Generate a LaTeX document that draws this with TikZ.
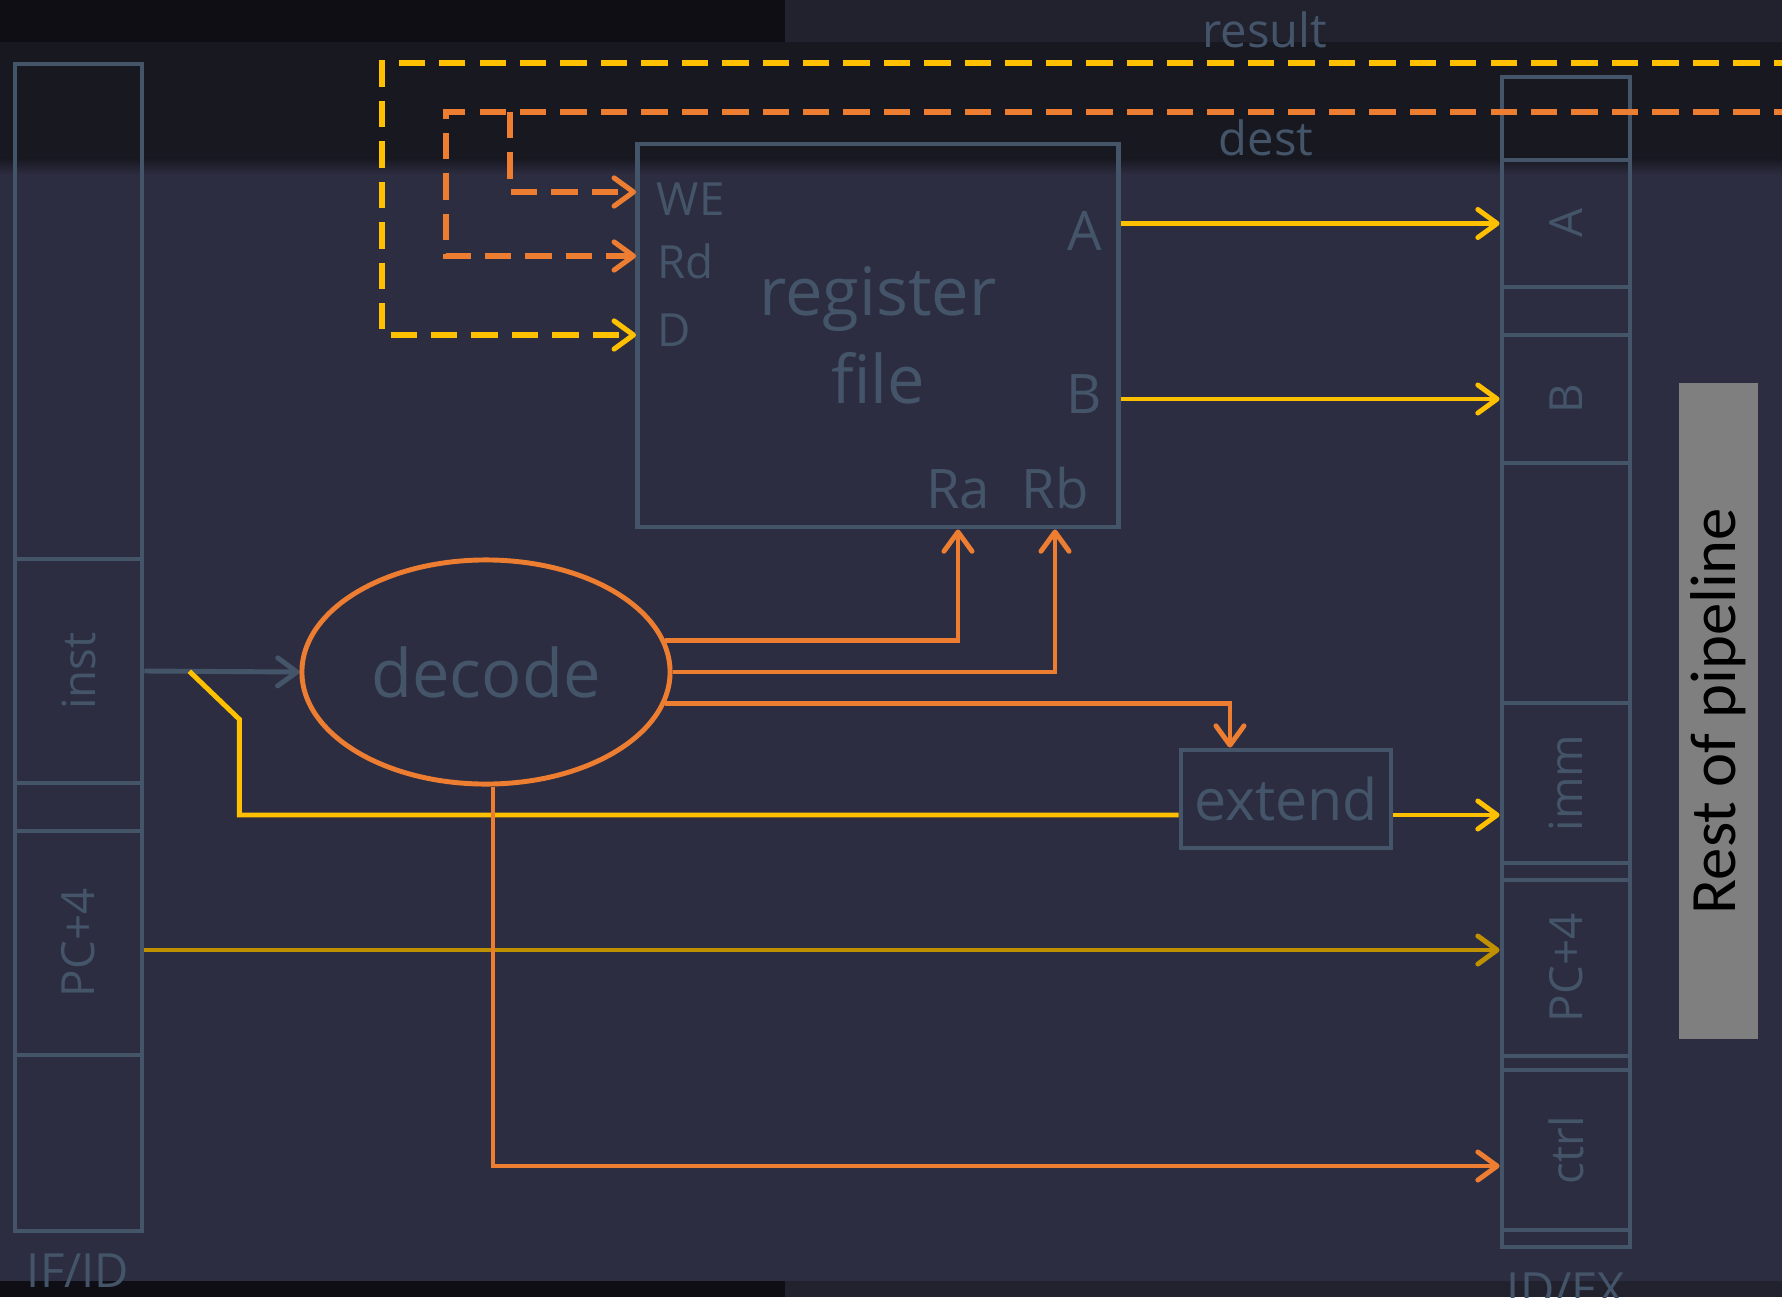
\documentclass[tikz,border=0pt]{standalone}
\usepackage{fontspec}
\setmainfont{Open Sans}
\newfontfamily\calibfont{Carlito}
\usepackage{tikz}
\usetikzlibrary{arrows.meta,shapes,positioning,calc}
\usepackage{xcolor}
\definecolor{slide}{RGB}{45,45,65}
\definecolor{bandA}{RGB}{14,14,20}
\definecolor{bandB}{RGB}{34,34,47}
\definecolor{bandC}{RGB}{24,24,33}
\definecolor{boxc}{RGB}{68,85,106}
\definecolor{ylw}{RGB}{255,192,0}
\definecolor{org}{RGB}{237,125,49}
\definecolor{dylw}{RGB}{191,144,0}
\definecolor{restgray}{RGB}{127,127,127}

\begin{document}
\begin{tikzpicture}[x=0.01cm, y=-0.01cm,
    >={Straight Barb[length=5.5pt,width=8pt,round]},
    blk/.style={draw=boxc, line width=1.35pt, text=boxc, inner sep=0pt},
    cell/.style={blk, minimum width=1.28cm, font=\fontsize{13}{15}\selectfont},
    portlbl/.style={text=boxc, inner sep=0pt, font=\fontsize{13}{15}\selectfont},
    outlbl/.style={text=boxc, inner sep=0pt, font=\fontsize{15.5}{18}\selectfont},
    lbl/.style={text=boxc, inner sep=0pt, font=\fontsize{13.4}{16}\selectfont},
    ywire/.style={draw=ylw, line width=1.4pt},
    owire/.style={draw=org, line width=1.4pt},
    gwire/.style={draw=boxc, line width=1.4pt},
    pwire/.style={draw=dylw, line width=1.4pt},
    dashy/.style={ywire, line width=1.45pt, dash pattern=on 7.5pt off 4pt},
    dasho/.style={owire, line width=1.45pt, dash pattern=on 7.5pt off 4pt}]

    % 背景
    \fill[slide] (0,0) rectangle (1782,1297);
    \useasboundingbox (0,0) rectangle (1782,1297);
    \fill[bandA] (0,0) rectangle (785,42);
    \fill[bandB] (785,0) rectangle (1782,42);
    \fill[bandC] (0,42) rectangle (1782,158);
    \shade[top color=bandC, bottom color=slide] (0,158) rectangle (1782,175);
    \fill[bandA] (0,1281) rectangle (785,1297);
    \fill[bandB] (785,1281) rectangle (1782,1297);

    % IF/ID 寄存器
    \draw[blk] (15,64) rectangle (142,1231);
    \node[cell, minimum width=1.27cm, minimum height=2.24cm] (inst) at (78.5,671) {\rotatebox{90}{inst}};
    \node[cell, minimum width=1.27cm, minimum height=2.24cm] (ifpc) at (78.5,943) {\rotatebox{90}{PC+4}};
    \node[lbl, anchor=base] (ifid) at (78,1287) {IF/ID};

    % ID/EX 寄存器
    \draw[blk] (1502,77) rectangle (1630,1247);
    \node[cell, minimum height=1.27cm] (exa) at (1566,223.5) {\rotatebox{90}{A}};
    \node[cell, minimum height=1.28cm] (exb) at (1566,399) {\rotatebox{90}{B}};
    \node[cell, minimum height=1.60cm] (eximm) at (1566,783) {\rotatebox{90}{imm}};
    \node[cell, minimum height=1.76cm] (expc) at (1566,968) {\rotatebox{90}{PC+4}};
    \node[cell, minimum height=1.60cm] (exctrl) at (1566,1150) {\rotatebox{90}{ctrl}};
    \node[lbl, anchor=base] (idex) at (1566,1306) {ID/EX};

    % 寄存器堆
    \node[blk, minimum width=4.8cm, minimum height=3.83cm, align=center,
          font=\fontsize{19}{25}\selectfont] (rf) at (878,335.5) {register\\file};
    \node[portlbl, anchor=west] (we) at (656,199) {WE};
    \node[portlbl, anchor=west] (rd) at (657,261) {Rd};
    \node[portlbl, anchor=west] (din) at (657,330) {D};
    \node[outlbl] (pa) at (1085,231) {A};
    \node[outlbl] (pb) at (1084,394) {B};
    \node[outlbl] (ra) at (958,489) {Ra};
    \node[outlbl] (rb) at (1055,488) {Rb};
    \coordinate (weIn) at (636,192);
    \coordinate (rdIn) at (636,256);
    \coordinate (dIn) at (636,335);

    % 译码与扩展
    \node[ellipse, draw=org, line width=1.4pt, text=boxc, minimum width=3.68cm,
          minimum height=2.24cm, inner sep=0pt, font=\fontsize{19}{22}\selectfont] (dec) at (486,672) {decode};
    \node[blk, minimum width=2.10cm, minimum height=0.98cm,
          font=\fontsize{16.3}{20}\selectfont] (ext) at (1286,799) {extend};

    % 流水线其余部分
    \node[fill=restgray, minimum width=0.79cm, minimum height=6.56cm, inner sep=0pt,
          font=\calibfont\fontsize{18.4}{22}\selectfont] (rest) at (1718.5,711) {\rotatebox{90}{Rest of pipeline}};

    \coordinate (immlvl) at (0,815);
    \coordinate (pclvl) at (0,950);
    \coordinate (ctrllvl) at (0,1166);

    % 数据线
    \draw[gwire,->] (inst.east) -- (dec.west);
    \draw[ywire] ($(inst.east)!0.29!(dec.west)$) -- ++(50,48) |- (ext.west |- immlvl);
    \draw[ywire,->] (ext.east |- immlvl) -- (eximm.west |- immlvl);
    \draw[pwire,->] (ifpc.east |- pclvl) -- (expc.west |- pclvl);
    \draw[ywire,->] (rf.east |- exa) -- (exa.west);
    \draw[ywire,->] (rf.east |- exb) -- (exb.west);

    % 控制线
    \draw[owire,->] (dec.10) -| (ra |- rf.south);
    \draw[owire,->] (dec.east) -| (rb |- rf.south);
    \draw[owire,->] (dec.-10) -| ([xshift=-0.56cm]ext.north);
    \draw[owire,->] ([xshift=0.07cm]dec.south) |- (exctrl.west |- ctrllvl);

    % 写回（虚线）
    \coordinate (res) at (1800,63);
    \coordinate (dst) at (1800,112);
    \draw[dashy,->] (res) -- (382,63) |- (dIn);
    \draw[dasho,->] (dst) -- (446,112) |- (rdIn);
    \draw[dasho,->] (510,112) |- (weIn);
    \node[lbl, anchor=base] (reslbl) at (1265,48) {result};
    \node[lbl, anchor=base] (dstlbl) at (1266,156) {dest};
\end{tikzpicture}
\end{document}
